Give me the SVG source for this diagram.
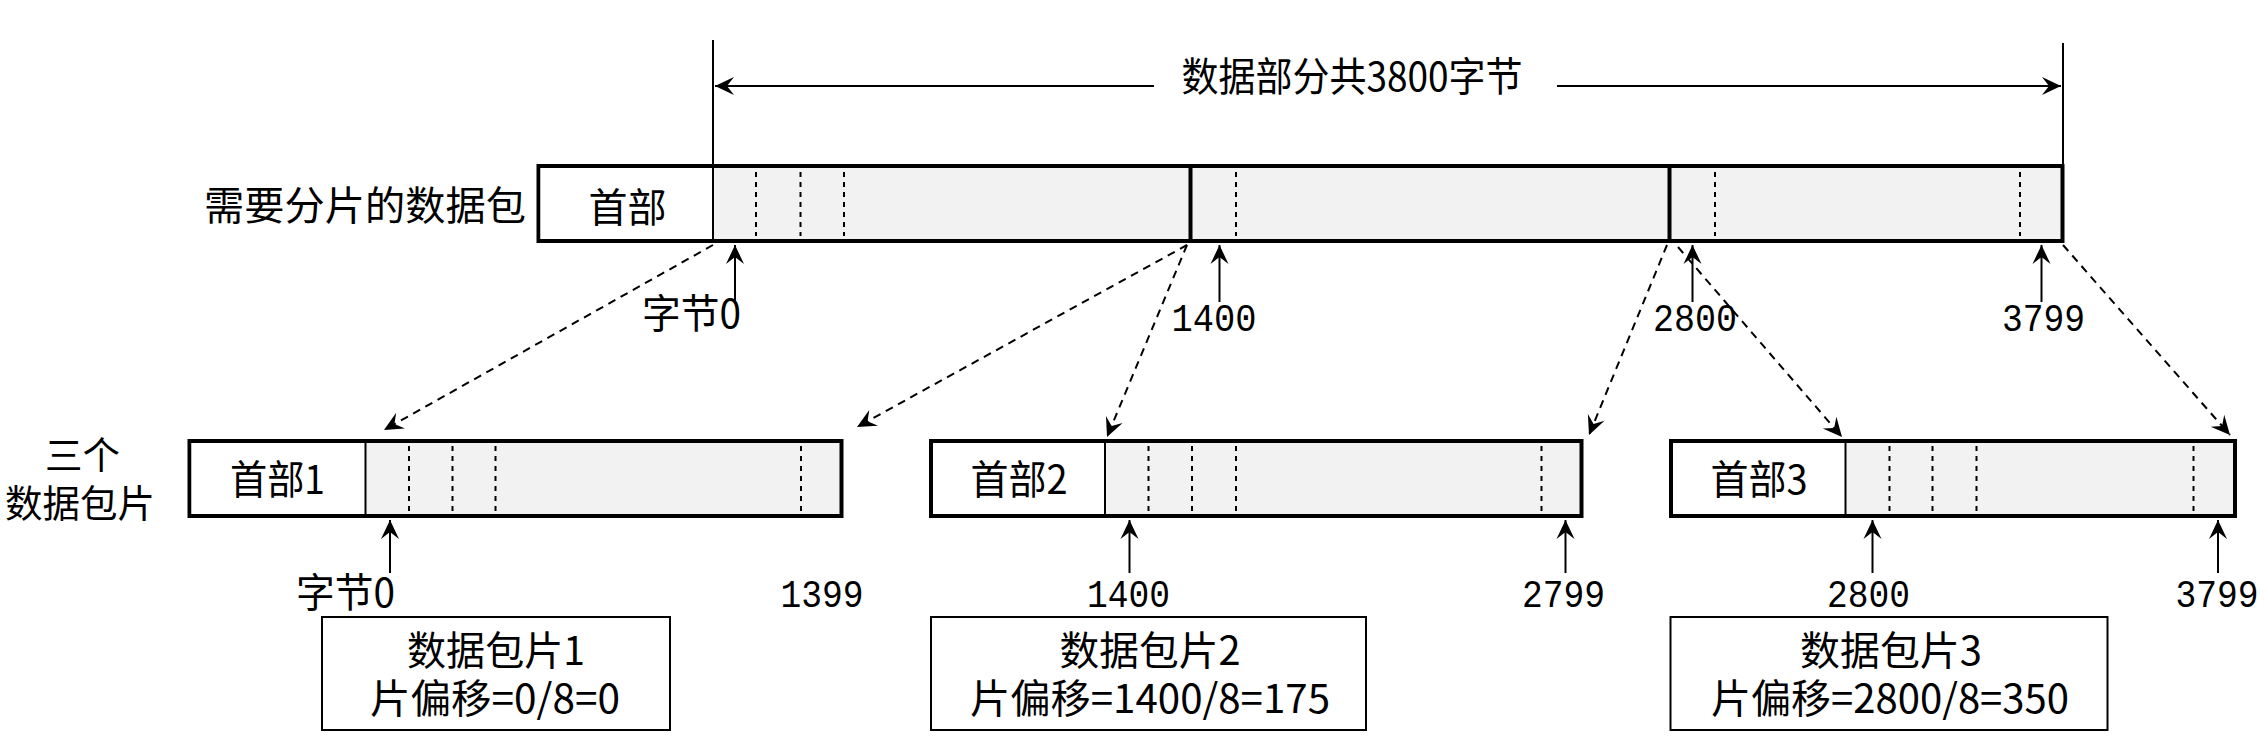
<svg xmlns="http://www.w3.org/2000/svg" width="2266" height="740" viewBox="0 0 2266 740">
<style>
.bg{fill:#ffffff}
.bar{fill:#f2f2f2;stroke:#000;stroke-width:4}
.hdr{fill:#ffffff;stroke:none}
.thin{stroke:#000;stroke-width:2;fill:none}
.thick{stroke:#000;stroke-width:4;fill:none}
.dash{stroke:#000;stroke-width:2;stroke-dasharray:5 5;fill:none}
.conn{stroke:#000;stroke-width:2;stroke-dasharray:8 6;fill:none}
.arr{stroke:#000;stroke-width:2;fill:none}
.info{fill:#ffffff;stroke:#000;stroke-width:2}
.t{font-family:"Noto Sans CJK SC","Noto Sans",sans-serif;font-size:40px;fill:#000}
.n{font-family:"Liberation Mono","DejaVu Sans Mono",monospace;font-size:38px;fill:#000}
</style>
<defs>
<marker id="ah" markerUnits="userSpaceOnUse" markerWidth="24" markerHeight="24" viewBox="-22 -12 24 24" refX="0" refY="0" orient="auto">
<path d="M0,0 L-19,-9 L-12,0 L-19,9 Z" fill="#000"/>
</marker>
</defs>
<rect class="bg" x="0" y="0" width="2266" height="740"/>

<g id="dimension">
<line class="thin" x1="713" y1="40" x2="713" y2="165"/>
<line class="thin" x1="2063" y1="43" x2="2063" y2="165"/>
<line class="arr" x1="1154" y1="86" x2="715" y2="86" marker-end="url(#ah)"/>
<line class="arr" x1="1557" y1="86" x2="2061" y2="86" marker-end="url(#ah)"/>
<text class="t" x="1352" y="91" text-anchor="middle" textLength="341" lengthAdjust="spacingAndGlyphs">数据部分共3800字节</text>
</g>

<g id="label-packet">
<text class="t" x="365" y="220" text-anchor="middle" textLength="322" lengthAdjust="spacingAndGlyphs">需要分片的数据包</text>
</g>

<g id="packet">
<rect class="bar" x="538.5" y="166" width="1524" height="75"/>
<rect class="hdr" x="540.5" y="168" width="172" height="71"/>
<line class="thin" x1="713" y1="166" x2="713" y2="241"/>
<line class="thick" x1="1190.5" y1="166" x2="1190.5" y2="241"/>
<line class="thick" x1="1669.5" y1="166" x2="1669.5" y2="241"/>
<line class="dash" x1="756" y1="172" x2="756" y2="236"/>
<line class="dash" x1="800.5" y1="172" x2="800.5" y2="236"/>
<line class="dash" x1="844" y1="172" x2="844" y2="236"/>
<line class="dash" x1="1236" y1="172" x2="1236" y2="236"/>
<line class="dash" x1="1715" y1="172" x2="1715" y2="236"/>
<line class="dash" x1="2020" y1="172" x2="2020" y2="236"/>
<text class="t" x="627.5" y="222" text-anchor="middle" textLength="78" lengthAdjust="spacingAndGlyphs">首部</text>
</g>

<g id="packet-marks">
<line class="arr" x1="735" y1="302" x2="735" y2="245" marker-end="url(#ah)"/>
<line class="arr" x1="1219.5" y1="302" x2="1219.5" y2="245" marker-end="url(#ah)"/>
<line class="arr" x1="1692.5" y1="302" x2="1692.5" y2="245" marker-end="url(#ah)"/>
<line class="arr" x1="2041.5" y1="302" x2="2041.5" y2="245" marker-end="url(#ah)"/>
<text class="t" x="691.5" y="328" text-anchor="middle" textLength="99" lengthAdjust="spacingAndGlyphs">字节0</text>
<text class="n" x="1214" y="331" text-anchor="middle" textLength="85" lengthAdjust="spacingAndGlyphs">1400</text>
<text class="n" x="1695" y="331" text-anchor="middle" textLength="84" lengthAdjust="spacingAndGlyphs">2800</text>
<text class="n" x="2043.5" y="331" text-anchor="middle" textLength="83" lengthAdjust="spacingAndGlyphs">3799</text>
</g>

<g id="connectors">
<line class="conn" x1="713" y1="245" x2="384" y2="430" marker-end="url(#ah)"/>
<line class="conn" x1="1187" y1="245" x2="857" y2="427" marker-end="url(#ah)"/>
<line class="conn" x1="1187" y1="245" x2="1107" y2="437" marker-end="url(#ah)"/>
<line class="conn" x1="1667" y1="245" x2="1589" y2="435" marker-end="url(#ah)"/>
<line class="conn" x1="1678" y1="247" x2="1842" y2="437" marker-end="url(#ah)"/>
<line class="conn" x1="2063" y1="245" x2="2230" y2="435" marker-end="url(#ah)"/>
</g>

<g id="label-fragments">
<text class="t" x="82.5" y="469" text-anchor="middle" textLength="75" lengthAdjust="spacingAndGlyphs" style="font-size:38px">三个</text>
<text class="t" x="80" y="517" text-anchor="middle" textLength="150" lengthAdjust="spacingAndGlyphs" style="font-size:38px">数据包片</text>
</g>

<g id="fragment1">
<rect class="bar" x="189.5" y="441" width="652" height="75"/>
<rect class="hdr" x="191.5" y="443" width="173" height="71"/>
<line class="thin" x1="365.5" y1="441" x2="365.5" y2="516"/>
<line class="dash" x1="409" y1="446" x2="409" y2="512"/>
<line class="dash" x1="452.5" y1="446" x2="452.5" y2="512"/>
<line class="dash" x1="495.5" y1="446" x2="495.5" y2="512"/>
<line class="dash" x1="801" y1="446" x2="801" y2="512"/>
<text class="t" x="277.5" y="494" text-anchor="middle" textLength="95" lengthAdjust="spacingAndGlyphs">首部1</text>
<line class="arr" x1="390" y1="573" x2="390" y2="520" marker-end="url(#ah)"/>
<text class="t" x="345.5" y="607" text-anchor="middle" textLength="99" lengthAdjust="spacingAndGlyphs">字节0</text>
<text class="n" x="822" y="607" text-anchor="middle" textLength="83" lengthAdjust="spacingAndGlyphs">1399</text>
</g>

<g id="fragment2">
<rect class="bar" x="931" y="441" width="650.5" height="75"/>
<rect class="hdr" x="933" y="443" width="171.5" height="71"/>
<line class="thin" x1="1105" y1="441" x2="1105" y2="516"/>
<line class="dash" x1="1148.5" y1="446" x2="1148.5" y2="512"/>
<line class="dash" x1="1192" y1="446" x2="1192" y2="512"/>
<line class="dash" x1="1236" y1="446" x2="1236" y2="512"/>
<line class="dash" x1="1541.5" y1="446" x2="1541.5" y2="512"/>
<text class="t" x="1019" y="494" text-anchor="middle" textLength="97" lengthAdjust="spacingAndGlyphs">首部2</text>
<line class="arr" x1="1129.5" y1="573" x2="1129.5" y2="520" marker-end="url(#ah)"/>
<line class="arr" x1="1565.5" y1="573" x2="1565.5" y2="520" marker-end="url(#ah)"/>
<text class="n" x="1128.5" y="607" text-anchor="middle" textLength="83" lengthAdjust="spacingAndGlyphs">1400</text>
<text class="n" x="1563.5" y="607" text-anchor="middle" textLength="83" lengthAdjust="spacingAndGlyphs">2799</text>
</g>

<g id="fragment3">
<rect class="bar" x="1671" y="441" width="564" height="75"/>
<rect class="hdr" x="1673" y="443" width="172" height="71"/>
<line class="thin" x1="1845.5" y1="441" x2="1845.5" y2="516"/>
<line class="dash" x1="1889.5" y1="446" x2="1889.5" y2="512"/>
<line class="dash" x1="1932.5" y1="446" x2="1932.5" y2="512"/>
<line class="dash" x1="1976.5" y1="446" x2="1976.5" y2="512"/>
<line class="dash" x1="2193.5" y1="446" x2="2193.5" y2="512"/>
<text class="t" x="1759" y="494" text-anchor="middle" textLength="97" lengthAdjust="spacingAndGlyphs">首部3</text>
<line class="arr" x1="1872.5" y1="573" x2="1872.5" y2="520" marker-end="url(#ah)"/>
<line class="arr" x1="2218" y1="573" x2="2218" y2="520" marker-end="url(#ah)"/>
<text class="n" x="1868.5" y="607" text-anchor="middle" textLength="83" lengthAdjust="spacingAndGlyphs">2800</text>
<text class="n" x="2217" y="607" text-anchor="middle" textLength="83" lengthAdjust="spacingAndGlyphs">3799</text>
</g>

<g id="info1">
<rect class="info" x="322" y="617" width="348" height="113"/>
<text class="t" x="496" y="665" text-anchor="middle" textLength="178" lengthAdjust="spacingAndGlyphs">数据包片1</text>
<text class="t" x="495" y="713" text-anchor="middle" textLength="250" lengthAdjust="spacingAndGlyphs">片偏移=0/8=0</text>
</g>

<g id="info2">
<rect class="info" x="931" y="617" width="435" height="113"/>
<text class="t" x="1150" y="665" text-anchor="middle" textLength="181" lengthAdjust="spacingAndGlyphs">数据包片2</text>
<text class="t" x="1150" y="713" text-anchor="middle" textLength="360" lengthAdjust="spacingAndGlyphs">片偏移=1400/8=175</text>
</g>

<g id="info3">
<rect class="info" x="1670.5" y="617" width="437" height="113"/>
<text class="t" x="1891" y="665" text-anchor="middle" textLength="182" lengthAdjust="spacingAndGlyphs">数据包片3</text>
<text class="t" x="1890" y="713" text-anchor="middle" textLength="358" lengthAdjust="spacingAndGlyphs">片偏移=2800/8=350</text>
</g>
</svg>
